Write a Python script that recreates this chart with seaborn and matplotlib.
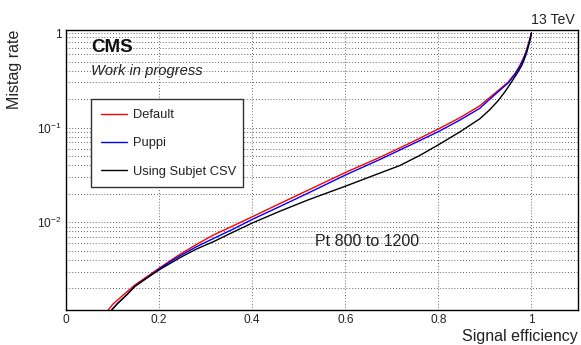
import matplotlib
matplotlib.use("Agg")
import matplotlib.pyplot as plt
import matplotlib.ticker as mticker
import numpy as np
import pandas as pd
import seaborn as sns

# ---- data ----
eff_default = [0.091, 0.100, 0.120, 0.148, 0.175, 0.200, 0.225, 0.248, 0.280, 0.316, 0.360,
               0.400, 0.460, 0.520, 0.600, 0.675, 0.740, 0.800, 0.846, 0.889, 0.907, 0.930,
               0.950, 0.965, 0.975, 0.982, 0.988, 0.9946, 1.000]
mis_default = [0.00118, 0.00135, 0.00165, 0.00217, 0.00268, 0.00326, 0.00395, 0.00468, 0.00580,
               0.00730, 0.00920, 0.01140, 0.01580, 0.02180, 0.03350, 0.04870, 0.06900, 0.09680,
               0.12700, 0.17000, 0.20200, 0.25000, 0.30300, 0.37500, 0.45300, 0.53000, 0.62700,
               0.80000, 1.00000]

eff_puppi = [0.098, 0.110, 0.130, 0.148, 0.175, 0.200, 0.225, 0.248, 0.280, 0.316, 0.360,
             0.400, 0.460, 0.520, 0.600, 0.675, 0.740, 0.800, 0.846, 0.889, 0.907, 0.930,
             0.950, 0.965, 0.975, 0.982, 0.988, 0.9946, 1.000]
mis_puppi = [0.00118, 0.00137, 0.00170, 0.00210, 0.00260, 0.00320, 0.00385, 0.00450, 0.00550,
             0.00670, 0.00850, 0.01070, 0.01470, 0.02030, 0.03150, 0.04620, 0.06550, 0.09070,
             0.12000, 0.16000, 0.19300, 0.24300, 0.29700, 0.36800, 0.44500, 0.52500, 0.62000,
             0.79000, 1.00000]

eff_subjet = [0.098, 0.110, 0.130, 0.148, 0.175, 0.200, 0.225, 0.248, 0.280, 0.316, 0.360,
              0.400, 0.460, 0.520, 0.600, 0.660, 0.7175, 0.760, 0.800, 0.846, 0.889, 0.910,
              0.929, 0.945, 0.957, 0.969, 0.979, 0.985, 0.990, 0.996, 1.000]
mis_subjet = [0.00118, 0.00137, 0.00170, 0.00210, 0.00260, 0.00313, 0.00370, 0.00430, 0.00520,
              0.00620, 0.00790, 0.00980, 0.01310, 0.01720, 0.02400, 0.03110, 0.03980, 0.05080,
              0.06580, 0.09000, 0.12400, 0.15400, 0.19400, 0.24700, 0.30300, 0.37300, 0.45300,
              0.53500, 0.62700, 0.80000, 1.00000]

series_names = ["Default", "Puppi", "Using Subjet CSV"]
series_colors = ["#ff0000", "#0000ff", "#000000"]

x_ticks = [0, 0.2, 0.4, 0.6, 0.8, 1.0]
x_tick_labels = ["0", "0.2", "0.4", "0.6", "0.8", "1"]
y_ticks = [1e-2, 1e-1, 1.0]
y_tick_labels = [r"$10^{-2}$", r"$10^{-1}$", "1"]

df = pd.concat([
    pd.DataFrame({"eff": eff_default, "mistag": mis_default, "series": series_names[0]}),
    pd.DataFrame({"eff": eff_puppi, "mistag": mis_puppi, "series": series_names[1]}),
    pd.DataFrame({"eff": eff_subjet, "mistag": mis_subjet, "series": series_names[2]}),
], ignore_index=True)

# ---- style ----
sns.set_theme(style="white")
plt.rcParams["font.family"] = ["Liberation Sans", "DejaVu Sans"]
plt.rcParams["mathtext.fontset"] = "custom"
plt.rcParams["mathtext.rm"] = "Liberation Sans"
plt.rcParams["mathtext.it"] = "Liberation Sans:italic"
plt.rcParams["mathtext.bf"] = "Liberation Sans:bold"

W, H = 581, 345
fig = plt.figure(figsize=(W / 100, H / 100), dpi=100)
fig.patch.set_facecolor("white")
ax = fig.add_axes([66 / W, 1 - 310 / H, (578 - 66) / W, (310 - 29.5) / H])
ax.set_facecolor("white")

sns.lineplot(data=df, x="eff", y="mistag", hue="series", hue_order=series_names,
             palette=series_colors, estimator=None, sort=True, linewidth=1.0,
             ax=ax, legend=False)

ax.set_yscale("log")
ax.set_xlim(0, 1.1)
ax.set_ylim(1.18e-3, 1.09)

# ticks
ax.xaxis.set_major_locator(mticker.FixedLocator(x_ticks))
ax.set_xticklabels(x_tick_labels)
ax.xaxis.set_minor_locator(mticker.MultipleLocator(0.05))
ax.yaxis.set_major_locator(mticker.FixedLocator(y_ticks))
ax.set_yticklabels(y_tick_labels)
ax.yaxis.set_minor_locator(mticker.LogLocator(base=10, subs=np.arange(2, 10)))
ax.yaxis.set_minor_formatter(mticker.NullFormatter())

ax.tick_params(axis="both", which="both", direction="in", top=False, right=False,
               colors="black", labelcolor="#222222", width=0.8)
ax.tick_params(axis="x", which="major", length=6, pad=3, labelsize=8.6)
ax.tick_params(axis="x", which="minor", length=3)
ax.tick_params(axis="y", which="major", length=11, pad=3, labelsize=8.6)
ax.tick_params(axis="y", which="minor", length=5)

# grid
grid_style = dict(color="#333333", linestyle=(0, (1, 2.5)), linewidth=0.6)
ax.grid(True, axis="x", which="major", **grid_style)
ax.grid(True, axis="y", which="both", **grid_style)
ax.set_axisbelow(True)

for s in ax.spines.values():
    s.set_color("black")
    s.set_linewidth(1.0)

ax.set_xlabel("")
ax.set_ylabel("")

# axis titles (ROOT style)
fig.text(578 / W, 1 - 337 / H, "Signal efficiency", ha="right", va="center",
         fontsize=11.5, color="#222222")
fig.text(15 / W, 1 - 29.5 / H, "Mistag rate", ha="center", va="top", rotation=90,
         fontsize=11.5, color="#222222")

# annotations
fig.text(575 / W, 1 - 24 / H, "13 TeV", ha="right", va="baseline", fontsize=10.2, color="#222222")
ax.text(91 / W, 1 - 48 / H, "CMS", transform=fig.transFigure, ha="left", va="center",
        fontsize=13.5, fontweight="bold", color="#111111")
ax.text(91 / W, 1 - 71 / H, "Work in progress", transform=fig.transFigure, ha="left",
        va="center", fontsize=10.6, fontstyle="italic", color="#222222")
ax.text(315 / W, 1 - 241 / H, "Pt 800 to 1200", transform=fig.transFigure, ha="left",
        va="center", fontsize=11.5, color="#222222")

# legend
handles = [plt.Line2D([], [], color=c, linewidth=1.0) for c in series_colors]
leg = ax.legend(handles, series_names, loc="upper left",
                bbox_to_anchor=((91 - 66) / 512, (310 - 102.3) / 280.5, (243 - 91) / 512, 0.01),
                mode="expand", fontsize=9.3, frameon=True, fancybox=False,
                borderpad=0.75, labelspacing=1.25, handlelength=2.0, handletextpad=0.5,
                borderaxespad=0.0)
leg.get_frame().set_edgecolor("#333333")
leg.get_frame().set_linewidth(1.0)
leg.get_frame().set_facecolor("white")
leg.get_frame().set_alpha(1.0)
for t in leg.get_texts():
    t.set_color("#222222")

fig.savefig("out.png", dpi=100)
